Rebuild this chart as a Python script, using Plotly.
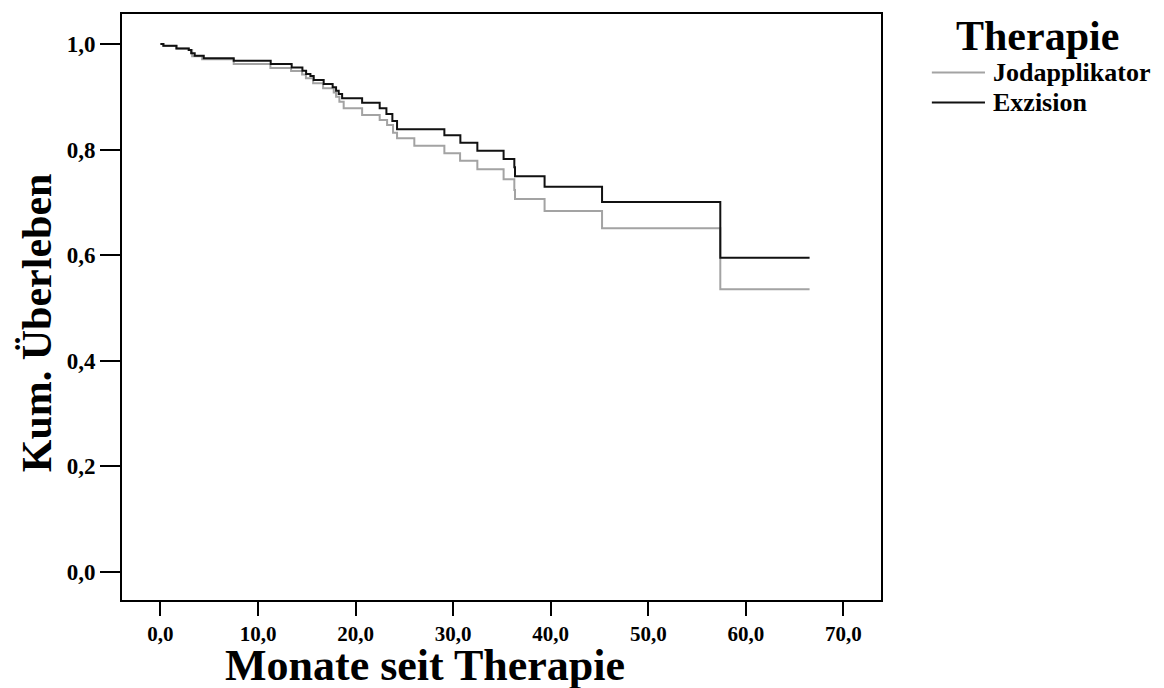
import plotly.graph_objects as go

# Kaplan-Meier step data (Monate, kumulatives Überleben)
jod_t = [0.0, 0.31, 1.64, 2.90, 3.25, 4.27, 7.51, 11.27, 13.39, 14.52, 14.91, 15.65,
         16.67, 17.76, 18.00, 18.34, 18.78, 20.67, 22.47, 23.23, 23.84, 24.25, 26.02,
         29.10, 30.71, 32.48, 35.17, 36.27, 36.34, 39.37, 45.26, 57.38, 66.53]
jod_s = [1.000, 0.9962, 0.9918, 0.9886, 0.9768, 0.9710, 0.9621, 0.9545, 0.9488, 0.9422,
         0.9350, 0.9255, 0.9160, 0.9084, 0.9001, 0.8906, 0.8781, 0.8654, 0.8559, 0.8465,
         0.8318, 0.8212, 0.8072, 0.7928, 0.7788, 0.7625, 0.7435, 0.7232, 0.7062, 0.6834,
         0.6506, 0.5350, 0.5350]

exz_t = [0.0, 0.30, 1.64, 2.90, 3.15, 3.51, 4.44, 7.51, 11.30, 13.45, 14.55, 14.93, 15.37,
         15.71, 16.73, 17.65, 18.00, 18.27, 18.62, 20.67, 22.47, 23.16, 23.77, 24.25,
         29.10, 30.74, 32.48, 35.17, 36.27, 36.34, 39.37, 45.26, 57.38, 66.53]
exz_s = [1.000, 0.9968, 0.9918, 0.9886, 0.9824, 0.9778, 0.9729, 0.9683, 0.9621, 0.9558,
         0.9494, 0.9431, 0.9393, 0.9318, 0.9242, 0.9179, 0.9115, 0.9052, 0.8971, 0.8887,
         0.8781, 0.8673, 0.8540, 0.8383, 0.8269, 0.8129, 0.7977, 0.7820, 0.7663, 0.7492,
         0.7295, 0.7005, 0.5949, 0.5949]

series_names = ["Jodapplikator", "Exzision"]
series_colors = ["#a3a3a3", "#111111"]
x_ticks = [0, 10, 20, 30, 40, 50, 60, 70]
y_ticks = [0.0, 0.2, 0.4, 0.6, 0.8, 1.0]

FONT = "Liberation Serif"

fig = go.Figure()
fig.add_trace(go.Scatter(x=jod_t, y=jod_s, mode="lines", name=series_names[0],
                         line=dict(color=series_colors[0], width=2, shape="hv")))
fig.add_trace(go.Scatter(x=exz_t, y=exz_s, mode="lines", name=series_names[1],
                         line=dict(color=series_colors[1], width=2, shape="hv")))

# manual legend (paper coordinates)
legend_y = [0.90, 0.849]
shapes = []
annotations = []
for name, col, ly in zip(series_names, series_colors, legend_y):
    shapes.append(dict(type="line", xref="paper", yref="paper",
                       x0=1.067, x1=1.137, y0=ly, y1=ly,
                       line=dict(color=col, width=2)))
    annotations.append(dict(text=name, xref="paper", yref="paper",
                            x=1.145, y=ly, xanchor="left", yanchor="middle",
                            showarrow=False,
                            font=dict(family=FONT, size=26, color="black", weight="bold")))

annotations += [
    dict(text="Monate seit Therapie", xref="paper", yref="paper",
         x=0.399, y=-0.112, xanchor="center", yanchor="middle", showarrow=False,
         font=dict(family=FONT, size=44, color="black", weight="bold")),
    dict(text="Kum. Überleben", xref="paper", yref="paper",
         x=-0.112, y=0.474, xanchor="center", yanchor="middle", showarrow=False,
         textangle=-90,
         font=dict(family=FONT, size=42, color="black", weight="bold")),
    dict(text="Therapie", xref="paper", yref="paper",
         x=1.206, y=0.963, xanchor="center", yanchor="middle", showarrow=False,
         font=dict(family=FONT, size=42, color="black", weight="bold")),
]

fig.update_layout(
    width=1164, height=688,
    margin=dict(l=122, r=283, t=14, b=88),
    paper_bgcolor="white", plot_bgcolor="white",
    separators=",.",
    font=dict(family=FONT, color="black", weight="bold"),
    showlegend=False,
    xaxis=dict(range=[-3.94, 73.85], tickvals=x_ticks, tickformat=".1f",
               showgrid=False, zeroline=False, showline=True, linecolor="black",
               linewidth=2, mirror=True, ticks="outside", ticklen=14, tickwidth=2,
               tickcolor="black",
               tickfont=dict(family=FONT, size=21, color="black", weight="bold")),
    yaxis=dict(range=[-0.054, 1.057], tickvals=y_ticks, tickformat=".1f",
               showgrid=False, zeroline=False, showline=True, linecolor="black",
               linewidth=2, mirror=True, ticks="outside", ticklen=20, tickwidth=2,
               tickcolor="black",
               tickfont=dict(family=FONT, size=23, color="black", weight="bold")),
    shapes=shapes,
    annotations=annotations,
)

fig.write_html("out.html", config={"displayModeBar": False},
               post_script="document.body.style.margin='0';document.body.style.overflow='hidden';")
